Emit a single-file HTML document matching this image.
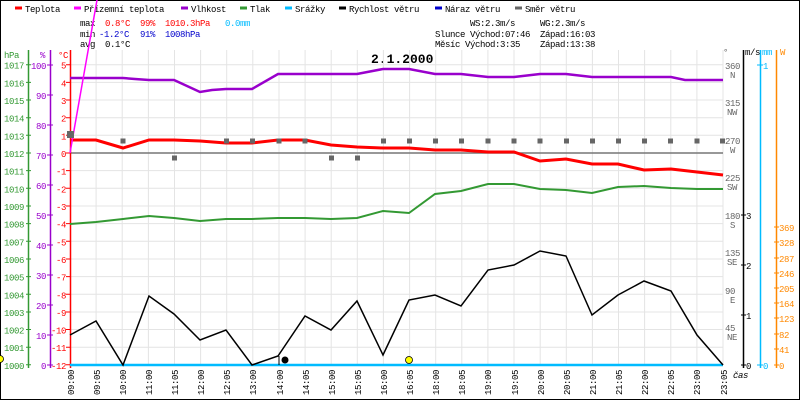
<!DOCTYPE html>
<html><head><meta charset="utf-8"><style>
html,body{margin:0;padding:0;background:#fff}
svg{display:block}
text{font-family:"Liberation Mono",monospace;font-size:9px;letter-spacing:-0.4px}
</style></head><body>
<svg width="800" height="400" viewBox="0 0 800 400" xmlns="http://www.w3.org/2000/svg">
<rect x="0.5" y="0.5" width="799" height="399" fill="#fff" stroke="#000"/>
<g stroke-width="3">
<line x1="15" y1="8" x2="22" y2="8" stroke="#f00"/>
<line x1="74" y1="8" x2="81" y2="8" stroke="#f0f"/>
<line x1="181" y1="8" x2="188" y2="8" stroke="#90c"/>
<line x1="240" y1="8" x2="247" y2="8" stroke="#393"/>
<line x1="285" y1="8" x2="292" y2="8" stroke="#0bf"/>
<line x1="339" y1="8" x2="346" y2="8" stroke="#000"/>
<line x1="435" y1="8" x2="442" y2="8" stroke="#00c"/>
<line x1="515" y1="8" x2="522" y2="8" stroke="#666"/>
</g>
<g fill="#000">
<text x="25" y="12">Teplota</text><text x="84" y="12">Přízemní teplota</text><text x="191" y="12">Vlhkost</text>
<text x="250" y="12">Tlak</text><text x="295" y="12">Srážky</text><text x="349" y="12">Rychlost větru</text>
<text x="445" y="12">Náraz větru</text><text x="525" y="12">Směr větru</text>
<text x="80" y="26">max</text><text x="80" y="37">min</text><text x="80" y="47">avg</text>
<text x="105" y="47">0.1°C</text>
<text x="470" y="26">WS:2.3m/s</text><text x="540" y="26">WG:2.3m/s</text>
<text x="435" y="37">Slunce Východ:07:46</text><text x="540" y="37">Západ:16:03</text>
<text x="435" y="47">Měsíc  Východ:3:35</text><text x="540" y="47">Západ:13:38</text>
</g>
<g fill="#f00"><text x="105" y="26">0.8°C</text><text x="140" y="26">99%</text><text x="165" y="26">1010.3hPa</text></g>
<text x="225" y="26" fill="#0bf">0.0mm</text>
<g fill="#00c"><text x="99" y="37">-1.2°C</text><text x="140" y="37">91%</text><text x="165" y="37">1008hPa</text></g>
<text x="371" y="63" style="font-size:13px;font-weight:bold;letter-spacing:0">2.1.2000</text>
<g stroke="#e4e4e4" stroke-width="1">
<path d="M96.1 50V365M122.2 50V365M148.4 50V365M174.5 50V365M200.6 50V365M226.7 50V365M252.8 50V365M279 50V365M305.1 50V365M331.2 50V365M357.3 50V365M383.4 50V365M409.6 50V365M435.7 50V365M461.8 50V365M487.9 50V365M514 50V365M540.2 50V365M566.3 50V365M592.4 50V365M618.5 50V365M644.6 50V365M670.8 50V365M696.9 50V365M723 50V365"/>
<path d="M70 64.7H723M70 82.4H723M70 100H723M70 117.7H723M70 135.3H723M70 170.6H723M70 188.3H723M70 206H723M70 223.6H723M70 241.3H723M70 259H723M70 276.6H723M70 294.3H723M70 312H723M70 329.5H723M70 347.2H723"/>
</g>
<line x1="70" y1="153" x2="723" y2="153" stroke="#777" stroke-width="1.5"/>
<line x1="28.5" y1="50" x2="28.5" y2="368" stroke="#393" stroke-width="1.5"/>
<line x1="50.5" y1="50" x2="50.5" y2="368" stroke="#90c" stroke-width="1.5"/>
<line x1="70.5" y1="50" x2="70.5" y2="368" stroke="#f00" stroke-width="1.5"/>
<line x1="743.5" y1="50" x2="743.5" y2="368" stroke="#000" stroke-width="1.5"/>
<line x1="760.5" y1="50" x2="760.5" y2="368" stroke="#0bf" stroke-width="1.5"/>
<line x1="776.5" y1="50" x2="776.5" y2="368" stroke="#f80" stroke-width="1.5"/>
<g>
<text x="4" y="58" fill="#393">hPa</text><text x="40" y="58" fill="#90c">%</text><text x="58" y="58" fill="#f00">°C</text>
<text x="723" y="55" fill="#666">°</text><text x="745" y="55" fill="#000">m/s</text><text x="762" y="55" fill="#0bf">mm</text><text x="780" y="55" fill="#f80">W</text>
</g>
<g fill="#393" text-anchor="end">
<text x="24" y="68.7">1017</text><text x="24" y="86.4">1016</text><text x="24" y="104">1015</text><text x="24" y="121.7">1014</text><text x="24" y="139.3">1013</text><text x="24" y="157">1012</text><text x="24" y="174.6">1011</text><text x="24" y="192.3">1010</text><text x="24" y="210">1009</text><text x="24" y="227.6">1008</text><text x="24" y="245.3">1007</text><text x="24" y="263">1006</text><text x="24" y="280.6">1005</text><text x="24" y="298.3">1004</text><text x="24" y="316">1003</text><text x="24" y="333.5">1002</text><text x="24" y="351.2">1001</text><text x="24" y="368.8">1000</text>
</g>
<path stroke="#393" d="M26 64.7h5M26 82.4h5M26 100h5M26 117.7h5M26 135.3h5M26 153h5M26 170.6h5M26 188.3h5M26 206h5M26 223.6h5M26 241.3h5M26 259h5M26 276.6h5M26 294.3h5M26 312h5M26 329.5h5M26 347.2h5M26 364.8h5"/>
<g fill="#90c" text-anchor="end">
<text x="46" y="69">100</text><text x="46" y="99">90</text><text x="46" y="129">80</text><text x="46" y="159">70</text><text x="46" y="189">60</text><text x="46" y="219">50</text><text x="46" y="249">40</text><text x="46" y="279">30</text><text x="46" y="309">20</text><text x="46" y="339">10</text><text x="46" y="369">0</text>
</g>
<path stroke="#90c" d="M47 65h6M47 95h6M47 125h6M47 155h6M47 185h6M47 215h6M47 245h6M47 275h6M47 305h6M47 335h6M47 365h6"/>
<g fill="#f00" text-anchor="end">
<text x="66" y="68.7">5</text><text x="66" y="86.4">4</text><text x="66" y="104">3</text><text x="66" y="121.7">2</text><text x="66" y="139.3">1</text><text x="66" y="157">0</text><text x="66" y="174.6">-1</text><text x="66" y="192.3">-2</text><text x="66" y="210">-3</text><text x="66" y="227.6">-4</text><text x="66" y="245.3">-5</text><text x="66" y="263">-6</text><text x="66" y="280.6">-7</text><text x="66" y="298.3">-8</text><text x="66" y="316">-9</text><text x="66" y="333.5">-10</text><text x="66" y="351.2">-11</text><text x="66" y="368.8">-12</text>
</g>
<path stroke="#f00" d="M66 64.7h5M66 82.4h5M66 100h5M66 117.7h5M66 135.3h5M66 153h5M66 170.6h5M66 188.3h5M66 206h5M66 223.6h5M66 241.3h5M66 259h5M66 276.6h5M66 294.3h5M66 312h5M66 329.5h5M66 347.2h5M66 364.8h5"/>
<g fill="#666">
<text x="725" y="69">360</text><text x="730" y="78">N</text>
<text x="725" y="106">315</text><text x="727" y="115">NW</text>
<text x="725" y="144">270</text><text x="730" y="153">W</text>
<text x="725" y="181">225</text><text x="727" y="190">SW</text>
<text x="725" y="219">180</text><text x="730" y="228">S</text>
<text x="725" y="256">135</text><text x="727" y="265">SE</text>
<text x="725" y="294">90</text><text x="730" y="303">E</text>
<text x="725" y="331">45</text><text x="727" y="340">NE</text>
</g>
<g fill="#000"><text x="746" y="219">3</text><text x="746" y="269">2</text><text x="746" y="319">1</text><text x="746" y="369">0</text><text x="733" y="378" style="font-style:italic">čas</text></g>
<path stroke="#000" d="M741 215h5M741 265h5M741 315h5M741 365h5"/>
<g fill="#0bf"><text x="763" y="69">1</text><text x="763" y="369">0</text></g>
<path stroke="#0bf" d="M757 65h6M757 365h6"/>
<g fill="#f80">
<text x="779" y="231">369</text><text x="779" y="246">328</text><text x="779" y="262">287</text><text x="779" y="277">246</text><text x="779" y="292">205</text><text x="779" y="307">164</text><text x="779" y="322">123</text><text x="779" y="338">82</text><text x="779" y="353">41</text><text x="779" y="369">0</text>
</g>
<path stroke="#f80" d="M774 227h5M774 242h5M774 258h5M774 273h5M774 288h5M774 303h5M774 318h5M774 334h5M774 349h5M774 365h5"/>
<g fill="#000" text-anchor="end">
<text transform="translate(74,370) rotate(-90)">09:00</text><text transform="translate(100,370) rotate(-90)">09:05</text><text transform="translate(126,370) rotate(-90)">10:00</text><text transform="translate(152,370) rotate(-90)">11:00</text><text transform="translate(178,370) rotate(-90)">11:05</text><text transform="translate(204,370) rotate(-90)">12:00</text><text transform="translate(230,370) rotate(-90)">12:05</text><text transform="translate(256,370) rotate(-90)">13:00</text><text transform="translate(283,370) rotate(-90)">14:00</text><text transform="translate(309,370) rotate(-90)">14:05</text><text transform="translate(335,370) rotate(-90)">15:00</text><text transform="translate(361,370) rotate(-90)">15:05</text><text transform="translate(387,370) rotate(-90)">16:00</text><text transform="translate(413,370) rotate(-90)">16:05</text><text transform="translate(439,370) rotate(-90)">18:00</text><text transform="translate(465,370) rotate(-90)">18:05</text><text transform="translate(491,370) rotate(-90)">19:00</text><text transform="translate(518,370) rotate(-90)">19:05</text><text transform="translate(544,370) rotate(-90)">20:00</text><text transform="translate(570,370) rotate(-90)">20:05</text><text transform="translate(596,370) rotate(-90)">21:00</text><text transform="translate(622,370) rotate(-90)">21:05</text><text transform="translate(648,370) rotate(-90)">22:00</text><text transform="translate(674,370) rotate(-90)">22:05</text><text transform="translate(700,370) rotate(-90)">23:00</text><text transform="translate(727,370) rotate(-90)">23:05</text>
</g>
<line x1="70" y1="365" x2="723" y2="365" stroke="#0bf" stroke-width="2.5"/>
<polyline fill="none" stroke="#90c" stroke-width="2.5" points="70,78 123,78 135,79 149,80 174,80 200,92 212,90 226,89 252,89 278,74 357,74 383,69 409,69 435,74 461,74 488,77 514,77 540,74 566,74 592,77 671,77 685,80 723,80"/>
<polyline fill="none" stroke="#393" stroke-width="2" points="70,224 96,222 123,219 149,216 174,218 200,221 226,219 252,219 278,218 305,218 331,219 357,218 383,211 409,213 435,194 461,191 488,184 514,184 540,189 566,190 592,193 618,187 644,186 671,188 697,189 723,189"/>
<polyline fill="none" stroke="#f00" stroke-width="3" points="70,140 96,140 123,148 149,140 174,140 200,141 226,143 252,143 278,140 305,140 331,145 357,147 383,148 409,148 435,150 461,150 488,152 514,152 540,161 566,159 592,164 618,164 644,170 671,169 697,172 723,175"/>
<polyline fill="none" stroke="#000" stroke-width="1.5" points="70,335 96,321 123,365 149,296 174,314 200,340 226,330 252,365 278,356 305,316 331,330 357,301 383,355 409,300 435,295 461,306 488,270 514,265 540,251 566,256 592,315 618,295 644,281 671,291 697,335 723,365"/>
<line x1="70" y1="153" x2="97" y2="0" stroke="#f0f" stroke-width="1.5"/>
<g fill="#666">
<rect x="67" y="131" width="7" height="7"/>
<rect x="120.5" y="138.5" width="5" height="5"/><rect x="172" y="155.5" width="5" height="5"/><rect x="224" y="138.5" width="5" height="5"/><rect x="250" y="138.5" width="5" height="5"/><rect x="276.5" y="138.5" width="5" height="5"/><rect x="302.5" y="138.5" width="5" height="5"/><rect x="329" y="155.5" width="5" height="5"/><rect x="355" y="155.5" width="5" height="5"/><rect x="381" y="138.5" width="5" height="5"/><rect x="407" y="138.5" width="5" height="5"/><rect x="433" y="138.5" width="5" height="5"/><rect x="459" y="138.5" width="5" height="5"/><rect x="485.5" y="138.5" width="5" height="5"/><rect x="511.5" y="138.5" width="5" height="5"/><rect x="537.5" y="138.5" width="5" height="5"/><rect x="564" y="138.5" width="5" height="5"/><rect x="590" y="138.5" width="5" height="5"/><rect x="616" y="138.5" width="5" height="5"/><rect x="642" y="138.5" width="5" height="5"/><rect x="668" y="138.5" width="5" height="5"/><rect x="694.5" y="138.5" width="5" height="5"/><rect x="720" y="138.5" width="5" height="5"/>
</g>
<line x1="279" y1="356" x2="279" y2="365" stroke="#000"/>
<circle cx="285" cy="360" r="3.5" fill="#000"/>
<circle cx="409" cy="360" r="3.5" fill="#ff0" stroke="#000" stroke-width="0.8"/>
<circle cx="0" cy="359" r="3.5" fill="#ff0" stroke="#000" stroke-width="0.8"/>
</svg>
</body></html>
